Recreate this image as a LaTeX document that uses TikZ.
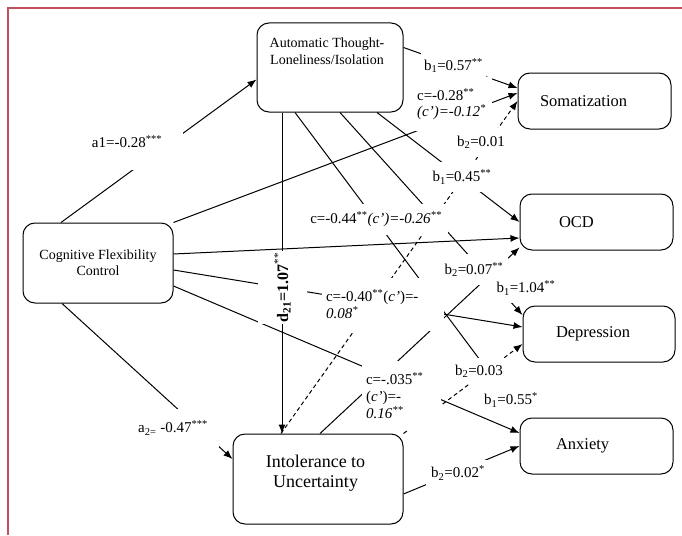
\documentclass[tikz,border=0pt]{standalone}
\usepackage{fontspec}
\setmainfont{Liberation Serif}
\usetikzlibrary{arrows.meta}

\definecolor{framered}{RGB}{192,80,96}

\tikzset{
  box/.style={draw,rounded corners=12pt,line width=1pt,inner sep=0pt,minimum width=153pt,minimum height=56pt,font=\fontsize{16.5}{19}\selectfont,align=left},
  lbl/.style={fill=white,inner sep=0pt,font=\fontsize{15}{17}\selectfont},
  plain/.style={line width=1pt},
  link/.style={plain,-{Latex[length=9pt,width=7pt]}},
  dlink/.style={link,dash pattern=on 4pt off 3pt},
}

\begin{document}
\begin{tikzpicture}[x=1pt,y=-1pt]
\useasboundingbox (0,0) rectangle (682,535);
\draw[framered,line width=1.5pt] (8,535) -- (8,8) -- (682,8);

% boxes
\node[box,minimum width=146pt,minimum height=89pt,label={[anchor=north,inner sep=0pt,yshift=-15pt,xshift=-3pt,align=center,font=\fontsize{14}{17}\selectfont]north:Automatic Thought-\\Loneliness/Isolation}] (auto) at (330,67.5) {};
\node[box,align=center,minimum width=150pt,minimum height=80pt,font=\fontsize{14}{16}\selectfont] (cfc) at (98,263) {Cognitive Flexibility\\Control};
\node[box,text width=109pt] (som) at (594.5,101) {Somatization};
\node[box,text width=75pt] (ocd) at (596.5,222) {OCD};
\node[box,minimum width=152pt,text width=86pt] (dep) at (599,334) {Depression};
\node[box,text width=81pt] (anx) at (596.5,446) {Anxiety};
\node[box,minimum width=170pt,minimum height=90pt,label={[anchor=north,inner sep=0pt,yshift=-21.5pt,xshift=-2.5pt,align=center,font=\fontsize{18}{20}\selectfont]north:Intolerance to\\Uncertainty}] (intol) at (318,479) {};

% paths from the control box
\draw[link] ([xshift=-37pt]cfc.north) -- ([yshift=-12pt]auto.west);
\draw[link] (cfc.north east) -- ([yshift=8pt]som.west);
\draw[link] ([yshift=9pt]cfc.east) -- ([yshift=-16pt]ocd.west);
\draw[link] ([yshift=-7pt]cfc.east) -- ([yshift=7pt]dep.west);
\draw[link] ([yshift=-23pt]cfc.east) -- ([yshift=13pt]anx.west);
\draw[link] ([xshift=-36pt]cfc.south) -- ([yshift=20pt]intol.west);

% paths from the mediators
\draw[link] ([yshift=20pt]auto.east) -- ([yshift=13pt]som.west);
\draw[link] ([xshift=-48pt]auto.south) -- ([xshift=-36pt]intol.north);
\coordinate (aend) at (480,360);
\draw[plain] ([xshift=-35pt]auto.south) -- (aend);
\draw[link] ([xshift=10pt]auto.south) -- ([yshift=19pt]dep.west);
\draw[link] ([xshift=47pt]auto.south) -- (ocd.west);
\draw[dlink] ([xshift=-37pt]intol.north) -- (som.west);
\draw[link] ([xshift=2pt]intol.north) -- ([yshift=3pt]ocd.south west);
\draw[dlink] (intol.north east) -- ([yshift=-10pt]dep.west);
\draw[link] ([yshift=-15pt]intol.east) -- (anx.west);

% coefficients
\node[lbl,minimum width=112pt,minimum height=56pt] (a1) at (127,142) {a1=-0.28\textsuperscript{***}};
\node[lbl,minimum width=65pt,minimum height=25pt] (b157) at (453.5,65.5) {b\textsubscript{1}=0.57\textsuperscript{**}};
\node[lbl,minimum width=81pt,minimum height=54pt,align=left,font=\fontsize{15}{16}\selectfont] (c28) at (451.5,104) {c=-0.28\textsuperscript{**}\\\textit{(c’)=-0.12\textsuperscript{*}}};
\node[lbl,minimum width=144pt,minimum height=31pt] (c44) at (376,219.5) {c=-0.44\textsuperscript{**}\textit{(c’)=-0.26\textsuperscript{**}}};
\node[lbl,minimum width=64pt,minimum height=30pt] (b145) at (462,177) {b\textsubscript{1}=0.45\textsuperscript{**}};
\node[lbl,minimum width=52pt,minimum height=29pt] (b201) at (481,142.5) {b\textsubscript{2}=0.01};
\node[lbl,minimum width=68pt,minimum height=31pt] (b207) at (474,269.5) {b\textsubscript{2}=0.07\textsuperscript{**}};
\node[lbl,minimum width=72pt,minimum height=30pt] (b104) at (526,288) {b\textsubscript{1}=1.04\textsuperscript{**}};
\node[lbl,minimum width=122pt,minimum height=53pt,text width=114pt,align=left] (c40) at (383,304.5) {c=-0.40\textsuperscript{**}(\textit{c’})=-\\\textit{0.08\textsuperscript{*}}};
\node[lbl,rotate=90,minimum width=73pt,minimum height=49pt,font=\fontsize{16}{18}\selectfont] (d21) at (282.5,287.5) {\textbf{d\textsubscript{21}=1.07}\textsuperscript{**}};
\node[lbl,minimum width=79pt,minimum height=69pt,text width=71pt,align=left] (c035) at (401.5,395.5) {c=-.035\textsuperscript{**}\\(\textit{c’})=-\\\textit{0.16\textsuperscript{**}}};
\node[lbl,minimum width=54pt,minimum height=26pt] (b203) at (479,371) {b\textsubscript{2}=0.03};
\node[lbl,minimum width=60pt,minimum height=22pt] (b155) at (511,400) {b\textsubscript{1}=0.55\textsuperscript{*}};
\node[lbl,minimum width=64pt,minimum height=26pt] (b202) at (458,473) {b\textsubscript{2}=0.02\textsuperscript{*}};
\node[lbl,minimum width=92pt,minimum height=38pt] (a2) at (173,428) {a\textsubscript{2=} -0.47\textsuperscript{***}};

\end{tikzpicture}
\end{document}
